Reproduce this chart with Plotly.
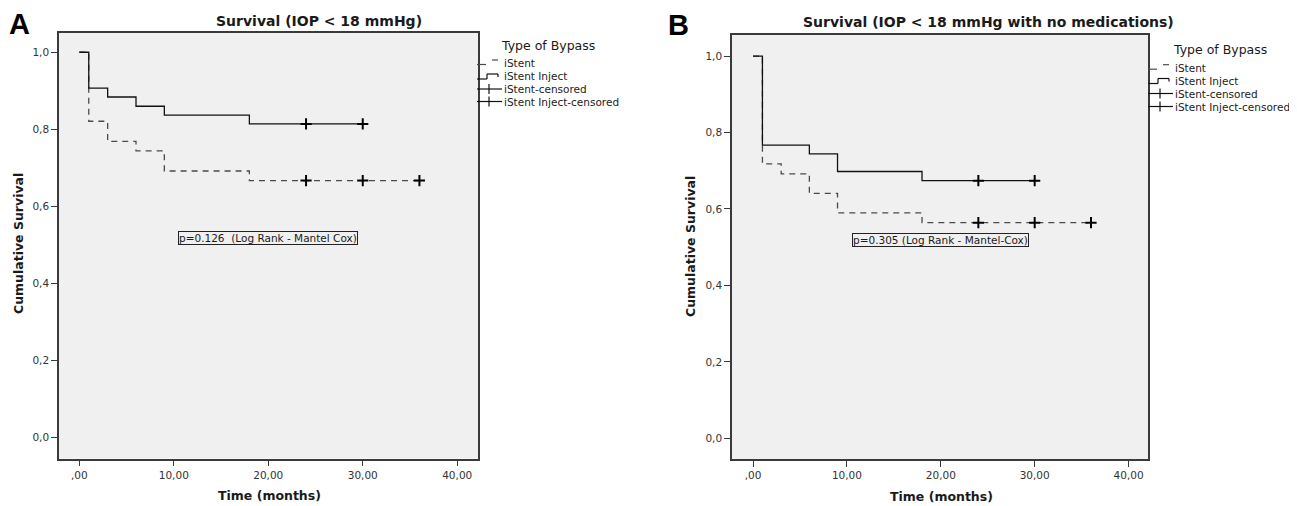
import plotly.graph_objects as go

# ---------------- data ----------------
# Panel A: Survival (IOP < 18 mmHg)
a_stent_time = [0, 1, 3, 6, 9, 18, 36]
a_stent_surv = [1.0, 0.821, 0.769, 0.744, 0.692, 0.667, 0.667]
a_inject_time = [0, 1, 3, 6, 9, 18, 30]
a_inject_surv = [1.0, 0.907, 0.884, 0.860, 0.837, 0.814, 0.814]
a_stent_cens_time = [24, 30, 36]
a_stent_cens_surv = [0.667, 0.667, 0.667]
a_inject_cens_time = [24, 30]
a_inject_cens_surv = [0.814, 0.814]

# Panel B: Survival (IOP < 18 mmHg with no medications)
b_stent_time = [0, 1, 3, 6, 9, 18, 36]
b_stent_surv = [1.0, 0.718, 0.692, 0.641, 0.590, 0.564, 0.564]
b_inject_time = [0, 1, 6, 9, 18, 30]
b_inject_surv = [1.0, 0.767, 0.744, 0.698, 0.674, 0.674]
b_stent_cens_time = [24, 30, 36]
b_stent_cens_surv = [0.564, 0.564, 0.564]
b_inject_cens_time = [24, 30]
b_inject_cens_surv = [0.674, 0.674]

x_tickvals = [0, 10, 20, 30, 40]
x_ticktext = [",00", "10,00", "20,00", "30,00", "40,00"]
y_tickvals = [0.0, 0.2, 0.4, 0.6, 0.8, 1.0]
y_ticktext = ["0,0", "0,2", "0,4", "0,6", "0,8", "1,0"]

legend_title = "Type of Bypass"
legend_items = ["iStent", "iStent Inject", "iStent-censored", "iStent Inject-censored"]
title_a = "Survival (IOP < 18 mmHg)"
title_b = "Survival (IOP < 18 mmHg with no medications)"
pval_a = "p=0.126  (Log Rank - Mantel Cox)"
pval_b = "p=0.305 (Log Rank - Mantel-Cox)"

# ---------------- styling ----------------
OFF = 8                      # page body margin
W, H = 1297 - OFF, 506 - OFF
FONT = "DejaVu Sans"
DASH_COLOR = "#4a4a4a"
SOLID_COLOR = "#111111"
FRAME = "#3a3a3a"


def px(x):
    return (x - OFF) / W


def py(y):
    return 1 - (y - OFF) / H


fig = go.Figure()


def add_panel(xa, ya, st_t, st_s, in_t, in_s, sc_t, sc_s, ic_t, ic_s):
    fig.add_trace(go.Scatter(x=st_t, y=st_s, mode="lines", line_shape="hv",
                             line=dict(color=DASH_COLOR, width=1.3, dash="6px,5px"),
                             xaxis=xa, yaxis=ya, showlegend=False, hoverinfo="skip"))
    fig.add_trace(go.Scatter(x=in_t, y=in_s, mode="lines", line_shape="hv",
                             line=dict(color=SOLID_COLOR, width=1.3),
                             xaxis=xa, yaxis=ya, showlegend=False, hoverinfo="skip"))
    for t, s in ((sc_t, sc_s), (ic_t, ic_s)):
        fig.add_trace(go.Scatter(x=t, y=s, mode="markers",
                                 marker=dict(symbol="cross-thin", size=8,
                                             line=dict(color="#000000", width=2)),
                                 xaxis=xa, yaxis=ya, showlegend=False, hoverinfo="skip"))


add_panel("x", "y", a_stent_time, a_stent_surv, a_inject_time, a_inject_surv,
          a_stent_cens_time, a_stent_cens_surv, a_inject_cens_time, a_inject_cens_surv)
add_panel("x2", "y2", b_stent_time, b_stent_surv, b_inject_time, b_inject_surv,
          b_stent_cens_time, b_stent_cens_surv, b_inject_cens_time, b_inject_cens_surv)

axis_common = dict(showline=True, linecolor=FRAME, linewidth=1.5, mirror=True,
                   ticks="outside", ticklen=6, tickcolor=FRAME, tickwidth=1,
                   showgrid=False, zeroline=False,
                   tickfont=dict(family=FONT, size=10.5, color="#333333"))

fig.update_layout(
    width=W, height=H,
    margin=dict(l=0, r=0, t=0, b=0),
    paper_bgcolor="white", plot_bgcolor="#f0f0f0",
    xaxis=dict(domain=[px(59), px(478)], range=[-2.15, 42.2], anchor="y",
               tickvals=x_tickvals, ticktext=x_ticktext, **axis_common),
    yaxis=dict(domain=[py(458.5), py(33)], range=[-0.054, 1.050], anchor="x",
               tickvals=y_tickvals, ticktext=y_ticktext, **axis_common),
    xaxis2=dict(domain=[px(732), px(1148)], range=[-2.24, 42.07], anchor="y2",
                tickvals=x_tickvals, ticktext=x_ticktext, **axis_common),
    yaxis2=dict(domain=[py(459), py(35)], range=[-0.054, 1.055], anchor="x2",
                tickvals=y_tickvals, ticktext=y_ticktext, **axis_common),
)

ann = []
shapes = []


def text(x, y, s, size, bold=False, family=FONT, xanchor="center", angle=0, color="#1a1a1a"):
    ann.append(dict(x=px(x), y=py(y), xref="paper", yref="paper",
                    text=f"<b>{s}</b>" if bold else s, showarrow=False,
                    xanchor=xanchor, yanchor="middle", textangle=angle,
                    font=dict(family=family, size=size, color=color)))


# panel letters
text(7, 24, "A", 29, bold=True, family="Liberation Sans", xanchor="left", color="#000")
text(666, 25, "B", 29, bold=True, family="Liberation Sans", xanchor="left", color="#000")
# titles
text(318.7, 21, title_a, 14, bold=True)
text(988, 22, title_b, 14, bold=True)
# axis titles
text(18, 244, "Cumulative Survival", 12.5, bold=True, angle=-90)
text(690, 247, "Cumulative Survival", 12.5, bold=True, angle=-90)
text(269.5, 495, "Time (months)", 12.5, bold=True)
text(941, 496, "Time (months)", 12.5, bold=True)

# p-value boxes (data coords)
for xr, yr, s in (("x", "y", pval_a), ("x2", "y2", pval_b)):
    ann.append(dict(x=20, y=0.518, xref=xr, yref=yr, text=s, showarrow=False,
                    xanchor="center", yanchor="middle",
                    font=dict(family=FONT, size=10.5, color="#1a1a1a"),
                    bordercolor="#222222", borderwidth=1, borderpad=0,
                    bgcolor="rgba(0,0,0,0)"))


def seg(x0, y0, x1, y1, color, width=1.2):
    shapes.append(dict(type="line", xref="paper", yref="paper",
                       x0=px(x0), y0=py(y0), x1=px(x1), y1=py(y1),
                       line=dict(color=color, width=width)))


def legend(xl, title_cx, title_y, item_ys):
    text(title_cx, title_y, legend_title, 12.5)
    for lbl, y in zip(legend_items, item_ys):
        text(xl, y, lbl, 10.5, xanchor="left", color="#222222")
    s0 = xl - 25
    y0, y1, y2, y3 = item_ys
    # iStent (dashed step)
    seg(s0, y0 + 1.5, s0 + 9, y0 + 1.5, DASH_COLOR)
    seg(s0 + 15, y0 - 3, s0 + 21, y0 - 3, DASH_COLOR)
    # iStent Inject (solid step)
    seg(s0, y1 + 2.5, s0 + 10, y1 + 2.5, SOLID_COLOR)
    seg(s0 + 10, y1 + 2.5, s0 + 10, y1 - 2.5, SOLID_COLOR)
    seg(s0 + 10, y1 - 2.5, s0 + 21, y1 - 2.5, SOLID_COLOR)
    seg(s0 + 21, y1 - 2.5, s0 + 21, y1 + 0.5, SOLID_COLOR)
    # censored
    for y in (y2, y3):
        seg(s0, y, s0 + 25, y, SOLID_COLOR)
        seg(s0 + 12, y - 5, s0 + 12, y + 5, SOLID_COLOR)


legend(502, 548, 45, [63, 76.5, 89, 101.5])
legend(1173, 1220, 50, [67.7, 81, 93.5, 106.5])

fig.update_layout(annotations=ann, shapes=shapes)
fig.write_html("out.html")
